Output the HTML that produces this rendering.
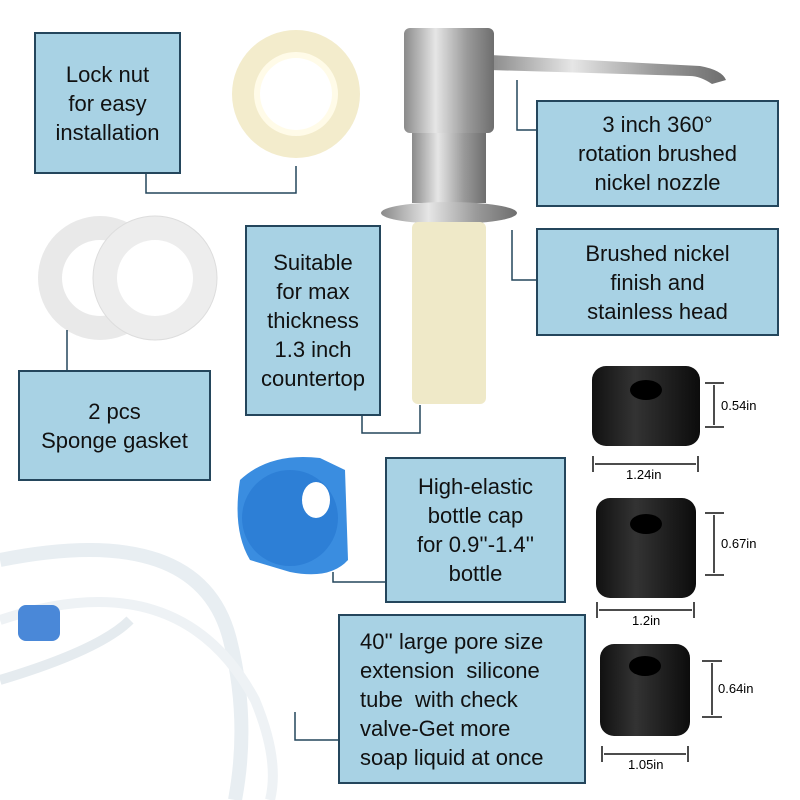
<!DOCTYPE html>
<html><head><style>
body{margin:0;width:800px;height:800px;background:#fff;position:relative;overflow:hidden;font-family:"Liberation Sans",sans-serif}
.b{position:absolute;background:#a8d2e4;border:2px solid #24465c;box-sizing:border-box;display:flex;align-items:center;justify-content:center;text-align:center;font-size:22px;line-height:29px;color:#111}
svg{position:absolute;left:0;top:0}
</style></head><body>
<svg width="800" height="800">
<defs>
<linearGradient id="st" x1="0" x2="1"><stop offset="0" stop-color="#8a8a8a"/><stop offset=".35" stop-color="#e6e6e6"/><stop offset=".7" stop-color="#9a9a9a"/><stop offset="1" stop-color="#6e6e6e"/></linearGradient>
<linearGradient id="bk" x1="0" x2="1"><stop offset="0" stop-color="#111"/><stop offset=".4" stop-color="#333"/><stop offset="1" stop-color="#0c0c0c"/></linearGradient>
</defs>
<!-- lock nut -->
<circle cx="296" cy="94" r="64" fill="#f3eccc"/><circle cx="296" cy="94" r="42" fill="#fffbe8"/><circle cx="296" cy="94" r="36" fill="#fff"/>
<!-- gaskets -->
<circle cx="100" cy="278" r="62" fill="#e9e9e9"/><circle cx="100" cy="278" r="38" fill="#fff"/>
<circle cx="155" cy="278" r="62" fill="#ededed" stroke="#ddd"/><circle cx="155" cy="278" r="38" fill="#fff"/>
<!-- pump -->
<path d="M490 55 L700 66 Q722 70 726 80 L712 84 Q700 76 690 76 L490 70Z" fill="url(#st)"/>
<rect x="404" y="28" width="90" height="105" rx="6" fill="url(#st)"/>
<rect x="412" y="133" width="74" height="70" fill="url(#st)"/>
<ellipse cx="449" cy="213" rx="68" ry="11" fill="url(#st)"/>
<rect x="412" y="222" width="74" height="182" rx="6" fill="#efe9c8"/>
<!-- blue cap -->
<path d="M240 480 Q270 452 320 458 L345 470 L348 560 Q330 580 290 572 L250 560 Q232 530 240 480Z" fill="#3a8de0"/>
<ellipse cx="290" cy="518" rx="48" ry="48" fill="#2d7fd6"/><ellipse cx="316" cy="500" rx="14" ry="18" fill="#fff"/>
<!-- tube -->
<path d="M0 560 Q200 520 230 640 Q250 720 235 800" fill="none" stroke="#e8eef2" stroke-width="14"/>
<path d="M0 620 Q180 560 255 700 Q280 760 270 800" fill="none" stroke="#eef2f5" stroke-width="10"/>
<path d="M0 680 Q100 650 130 620" fill="none" stroke="#e5ebef" stroke-width="10"/>
<rect x="18" y="605" width="42" height="36" rx="8" fill="#4a88d8"/>
<!-- black caps -->
<rect x="592" y="366" width="108" height="80" rx="14" fill="url(#bk)"/><ellipse cx="646" cy="390" rx="16" ry="10" fill="#000"/>
<rect x="596" y="498" width="100" height="100" rx="14" fill="url(#bk)"/><ellipse cx="646" cy="524" rx="16" ry="10" fill="#000"/>
<rect x="600" y="644" width="90" height="92" rx="14" fill="url(#bk)"/><ellipse cx="645" cy="666" rx="16" ry="10" fill="#000"/>
<g stroke="#111" stroke-width="1.5" fill="none">
<path d="M705 383H724M705 427H724M714 385V425M593 456V472M698 456V472M595 464H696"/>
<path d="M705 513H724M705 575H724M714 515V573M597 602V618M694 602V618M599 610H692"/>
<path d="M702 661H722M702 717H722M712 663V715M602 746V762M688 746V762M604 754H686"/>
</g>
<g stroke="#24465c" stroke-width="1.5" fill="none">
<path d="M146 173V193H296V166"/>
<path d="M517 80V130H536"/>
<path d="M512 230V280H536"/>
<path d="M362 415V433H420V405"/>
<path d="M67 330V371"/>
<path d="M333 572V582H386"/>
<path d="M295 712V740H338"/>
</g>
</svg>
<div class="b" style="left:34px;top:32px;width:147px;height:142px">Lock nut<br>for easy<br>installation</div>
<div class="b" style="left:536px;top:100px;width:243px;height:107px">3 inch 360°<br>rotation brushed<br>nickel nozzle</div>
<div class="b" style="left:536px;top:228px;width:243px;height:108px">Brushed nickel<br>finish and<br>stainless head</div>
<div class="b" style="left:245px;top:225px;width:136px;height:191px">Suitable<br>for max<br>thickness<br>1.3 inch<br>countertop</div>
<div class="b" style="left:18px;top:370px;width:193px;height:111px">2 pcs<br>Sponge gasket</div>
<div class="b" style="left:385px;top:457px;width:181px;height:146px">High-elastic<br>bottle cap<br>for 0.9''-1.4''<br>bottle</div>
<div class="b" style="left:338px;top:614px;width:248px;height:170px;justify-content:flex-start;text-align:left;padding-left:20px">40'' large pore size<br>extension&nbsp; silicone<br>tube&nbsp; with check<br>valve-Get more<br>soap liquid at once</div>
<div style="position:absolute;left:721px;top:398px;font-size:13px">0.54in</div>
<div style="position:absolute;left:626px;top:467px;font-size:13px">1.24in</div>
<div style="position:absolute;left:721px;top:536px;font-size:13px">0.67in</div>
<div style="position:absolute;left:632px;top:613px;font-size:13px">1.2in</div>
<div style="position:absolute;left:718px;top:681px;font-size:13px">0.64in</div>
<div style="position:absolute;left:628px;top:757px;font-size:13px">1.05in</div>
</body></html>
